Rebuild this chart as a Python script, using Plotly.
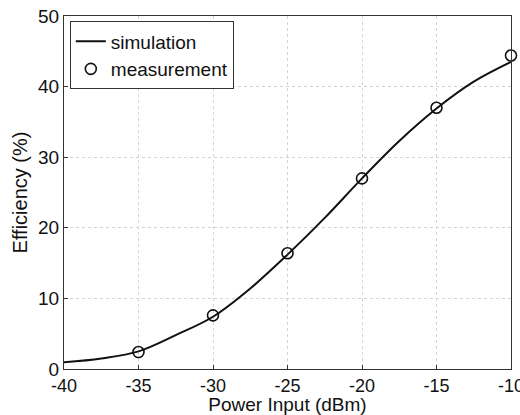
import plotly.graph_objects as go

# Simulation curve
sim_x = [-40, -37.5, -35, -32.5, -30, -27.5, -25, -22.5, -20, -17.5, -15, -12.5, -10]
sim_y = [0.95, 1.5, 2.5, 4.8, 7.4, 11.4, 16.2, 21.4, 27.0, 32.3, 36.9, 40.7, 43.5]

# Measurement points
meas_x = [-35, -30, -25, -20, -15, -10]
meas_y = [2.4, 7.6, 16.4, 27.0, 37.0, 44.4]

x_ticks = [-40, -35, -30, -25, -20, -15, -10]
y_ticks = [0, 10, 20, 30, 40, 50]

fig = go.Figure()
fig.add_trace(go.Scatter(x=sim_x, y=sim_y, mode="lines", name="simulation",
                         line=dict(color="#111111", width=2, shape="spline", smoothing=1.0)))
fig.add_trace(go.Scatter(x=meas_x, y=meas_y, mode="markers", name="measurement",
                         marker=dict(symbol="circle-open", size=11, color="#111111",
                                     line=dict(width=1.6, color="#111111")),
                         cliponaxis=False))

font = "Liberation Sans, Arial, sans-serif"
fig.update_layout(
    width=520, height=415,
    margin=dict(l=64, r=9, t=16, b=46),
    paper_bgcolor="white", plot_bgcolor="white",
    font=dict(family=font, color="#111111", size=19),
    showlegend=True,
    legend=dict(x=0.013, y=0.985, xanchor="left", yanchor="top",
                bordercolor="#333333", borderwidth=1, bgcolor="white",
                font=dict(size=19), itemwidth=30, tracegroupgap=0),
    xaxis=dict(range=[-40, -10], tickvals=x_ticks, ticktext=[str(v) for v in x_ticks],
               showgrid=True, gridcolor="#d4d4d4", griddash="dot", gridwidth=1,
               showline=True, linecolor="#333333", linewidth=1.2, mirror=True,
               ticks="inside", ticklen=4, tickcolor="#333333", automargin=False,
               tickfont=dict(size=18), zeroline=False, ticklabelstandoff=0,
               ticklabeloverflow="allow",
               title=dict(text="Power Input (dBm)", font=dict(size=19), standoff=0)),
    yaxis=dict(range=[0, 50], tickvals=y_ticks, ticktext=[str(v) for v in y_ticks],
               showgrid=True, gridcolor="#d4d4d4", griddash="dot", gridwidth=1,
               showline=True, linecolor="#333333", linewidth=1.2, mirror=True,
               ticks="inside", ticklen=4, tickcolor="#333333", automargin=False,
               tickfont=dict(size=19), zeroline=False, ticklabelstandoff=0,
               ticklabeloverflow="allow",
               title=dict(text="Efficiency (%)", font=dict(size=20), standoff=4)),
)

# remove the page's default 8px body margin so the 520x415 figure fills the window
fig.write_html("out.html", config={"displayModeBar": False},
               post_script="document.body.style.margin='0px';")
